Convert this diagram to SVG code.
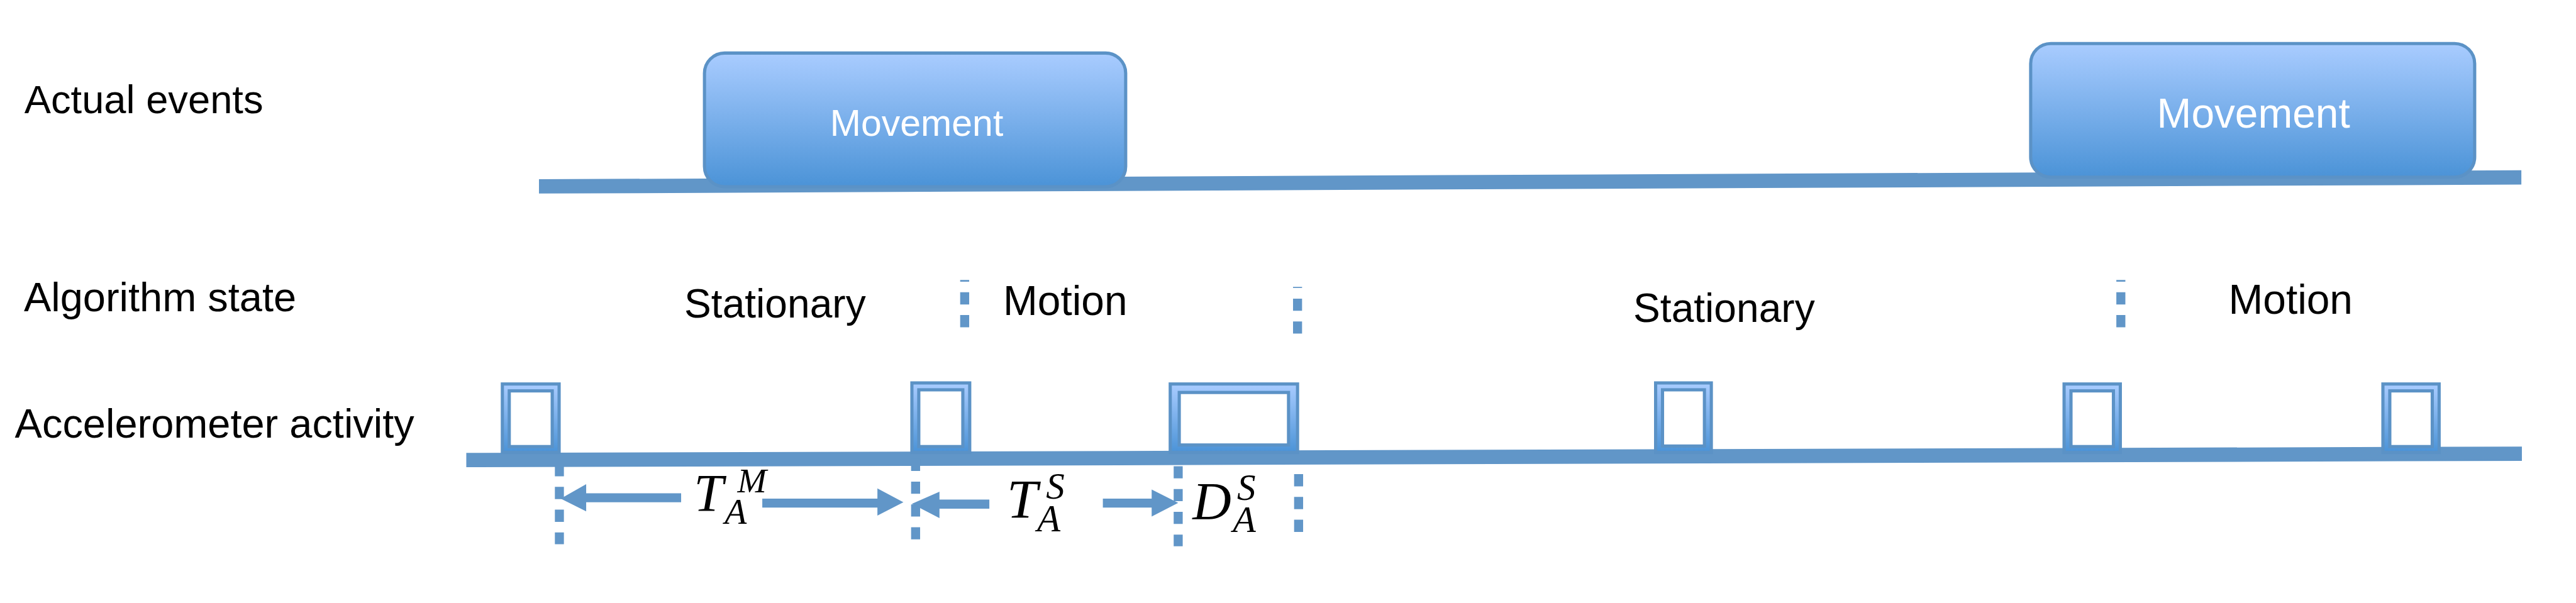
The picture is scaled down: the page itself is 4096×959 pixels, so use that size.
<svg xmlns="http://www.w3.org/2000/svg" width="4096" height="959" viewBox="0 0 4096 959">
<defs>
<linearGradient id="gr" x1="0" y1="0" x2="0" y2="1">
<stop offset="0" stop-color="#A9CCFF"/>
<stop offset="1" stop-color="#4B93D7"/>
</linearGradient>
<style>
.lbl{font-family:"Liberation Sans",Arial,sans-serif;fill:#000}
.wt{font-family:"Liberation Sans",Arial,sans-serif;fill:#fff;text-anchor:middle}
.box{fill:url(#gr);stroke:#5B92C6;stroke-width:6}
.inner{fill:#fff;stroke:#5B92C6;stroke-width:6}
.bar{fill:#6196C8}
.dash{stroke:#6196C8;stroke-width:17;stroke-dasharray:23 20;fill:none}
.arr{fill:#6196C8}
.math{font-family:"Liberation Serif","Times New Roman",serif;font-style:italic;fill:#000}
</style>
</defs>
<rect width="4096" height="959" fill="#fff"/>
<g transform="scale(0.843493)">
<g id="labels">
<text class="lbl" x="46" y="213" font-size="75">Actual events</text>
<text class="lbl" x="45" y="587" font-size="77">Algorithm state</text>
<text class="lbl" x="28" y="825" font-size="77">Accelerometer activity</text>
</g>
<g id="timeline-events"><polygon class="bar" points="1016,338 4753,321 4753,348 1016,365"/></g>
<g id="timeline-accel"><polygon class="bar" points="879,854 4754,842 4754,869 879,881"/></g>
<g id="movement1">
<rect class="box" x="1328" y="100" width="794" height="252" rx="38"/>
<text class="wt" x="1728" y="256" font-size="70">Movement</text>
</g>
<g id="movement2">
<rect class="box" x="3828" y="82" width="837" height="252" rx="38"/>
<text class="wt" x="4248" y="241" font-size="78">Movement</text>
</g>
<g id="state-stationary1"><text class="lbl" x="1290" y="599" font-size="76">Stationary</text></g>
<g id="state-motion1"><text class="lbl" x="1891" y="594" font-size="78">Motion</text></g>
<g id="state-stationary2"><text class="lbl" x="3079" y="607" font-size="76">Stationary</text></g>
<g id="state-motion2"><text class="lbl" x="4201" y="591" font-size="78">Motion</text></g>
<g id="pulse1"><rect class="box" x="947" y="724" width="107" height="129"/><rect class="inner" x="960" y="737" width="81" height="105"/></g>
<g id="pulse2"><rect class="box" x="1719" y="722" width="109" height="131"/><rect class="inner" x="1732" y="735" width="83" height="107"/></g>
<g id="pulse3"><rect class="box" x="2206" y="724" width="240" height="129"/><rect class="inner" x="2223" y="740" width="206" height="99"/></g>
<g id="pulse4"><rect class="box" x="3121" y="722" width="105" height="131"/><rect class="inner" x="3134" y="735" width="79" height="106"/></g>
<g id="pulse5"><rect class="box" x="3891" y="724" width="106" height="129"/><rect class="inner" x="3904" y="737" width="80" height="105"/></g>
<g id="pulse6"><rect class="box" x="4492" y="724" width="106" height="129"/><rect class="inner" x="4505" y="737" width="80" height="105"/></g>
<g id="connectors">
<line class="dash" x1="1818.5" y1="528" x2="1818.5" y2="617" stroke-dashoffset="20"/>
<line class="dash" x1="2446" y1="541" x2="2446" y2="629" stroke-dashoffset="21"/>
<line class="dash" x1="3998" y1="528" x2="3998" y2="617" stroke-dashoffset="20"/>
<line class="dash" x1="1054.5" y1="875" x2="1054.5" y2="1026"/>
<line class="dash" x1="1726" y1="865" x2="1726" y2="1017"/>
<line class="dash" x1="2221" y1="879" x2="2221" y2="1030"/>
<line class="dash" x1="2448" y1="894" x2="2448" y2="1003"/>
<polygon class="arr" points="1057,940 1105,913 1105,930 1284,930 1284,947 1105,947 1105,964"/>
<polygon class="arr" points="1437,940 1654,940 1654,921 1703,947 1654,972 1654,957 1437,957"/>
<polygon class="arr" points="1719,950 1771,927 1771,942 1865,942 1865,959 1771,959 1771,977"/>
<polygon class="arr" points="2079,940 2171,940 2171,923 2221,948 2171,974 2171,957 2079,957"/>
</g>
<g id="label-TAM">
<text class="math" x="1308" y="964" font-size="100">T<tspan x="1390" y="928" font-size="66">M</tspan><tspan x="1366" y="988" font-size="68">A</tspan></text>
</g>
<g id="label-TAS">
<text class="math" x="1898" y="976" font-size="104">T<tspan x="1972" y="940" font-size="70">S</tspan><tspan x="1955" y="1002" font-size="72">A</tspan></text>
</g>
<g id="label-DAS">
<text class="math" x="2248" y="979" font-size="101">D<tspan x="2332" y="943" font-size="70">S</tspan><tspan x="2324" y="1003" font-size="71">A</tspan></text>
</g>
</g>
</svg>
